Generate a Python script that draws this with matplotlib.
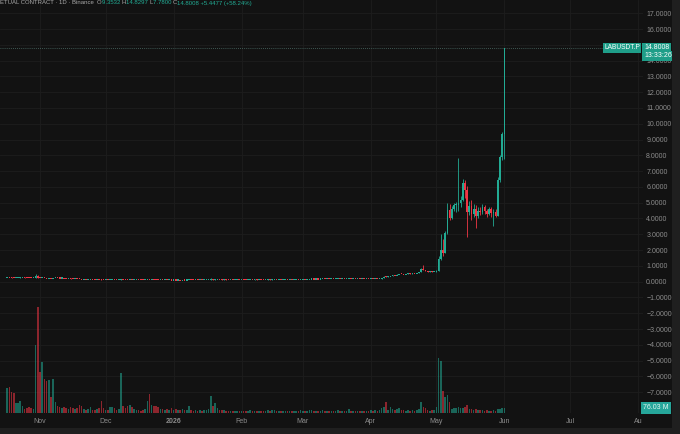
import numpy as np
import matplotlib.pyplot as plt
import matplotlib.dates as mdates
import matplotlib.transforms as mtransforms
from matplotlib.patches import Rectangle
from matplotlib.offsetbox import TextArea, HPacker, AnchoredOffsetbox

plt.rcParams['font.family'] = ['Liberation Sans', 'DejaVu Sans']

# daily candles, LABUSDT.P perpetual, 2025-10-17 .. 2026-06-01
start_day = np.datetime64('2025-10-17')
first_open = 0.270

closes = [
    0.285, 0.270, 0.258, 0.245, 0.252, 0.258, 0.266, 0.270, 0.262, 0.255,
    0.246, 0.238, 0.242, 0.350, 0.262, 0.228, 0.255, 0.236, 0.214, 0.228,
    0.215, 0.232, 0.236, 0.226, 0.218, 0.221, 0.212, 0.204, 0.207, 0.198,
    0.188, 0.191, 0.180, 0.165, 0.152, 0.156, 0.150, 0.153, 0.158, 0.151,
    0.144, 0.147, 0.138, 0.118, 0.108, 0.111, 0.106, 0.112, 0.117, 0.110,
    0.104, 0.107, 0.131, 0.122, 0.116, 0.108, 0.116, 0.110, 0.113, 0.115,
    0.111, 0.108, 0.105, 0.108, 0.121, 0.104, 0.110, 0.104, 0.099, 0.094,
    0.097, 0.094, 0.096, 0.093, 0.096, 0.092, 0.095, 0.092, 0.094, 0.091,
    0.094, 0.092, 0.094, 0.104, 0.100, 0.097, 0.099, 0.096, 0.098, 0.096,
    0.098, 0.101, 0.106, 0.150, 0.128, 0.142, 0.146, 0.140, 0.136, 0.138,
    0.135, 0.132, 0.134, 0.131, 0.133, 0.136, 0.133, 0.135, 0.132, 0.130,
    0.133, 0.136, 0.134, 0.137, 0.134, 0.136, 0.133, 0.131, 0.134, 0.138,
    0.135, 0.139, 0.142, 0.139, 0.141, 0.138, 0.140, 0.143, 0.140, 0.142,
    0.139, 0.142, 0.145, 0.142, 0.146, 0.150, 0.147, 0.151, 0.155, 0.160,
    0.156, 0.159, 0.156, 0.160, 0.163, 0.160, 0.163, 0.160, 0.164, 0.161,
    0.165, 0.168, 0.165, 0.168, 0.165, 0.168, 0.174, 0.170, 0.173, 0.170,
    0.173, 0.170, 0.174, 0.171, 0.174, 0.172, 0.176, 0.173, 0.178, 0.175,
    0.185, 0.225, 0.345, 0.318, 0.335, 0.380, 0.420, 0.405, 0.455, 0.500,
    0.480, 0.465, 0.490, 0.520, 0.505, 0.540, 0.525, 0.560, 0.640, 0.820,
    0.760, 0.680, 0.640, 0.660, 0.620, 0.640, 0.700, 1.480, 2.000, 1.850,
    3.100, 4.550, 4.050, 4.650, 4.850, 4.900, 5.000, 5.200, 6.300, 5.800,
    4.400, 4.800, 4.300, 4.600, 4.200, 4.500, 4.400, 4.750, 4.500, 4.300,
    4.600, 4.350, 4.450, 4.200, 6.450, 7.900, 9.3531, 14.8008,
]

# visible wicks (day index -> value); other days have no visible wick
highs = {13: 0.49, 14: 0.42, 52: 0.16, 93: 0.21, 172: 0.38, 189: 0.88,
         190: 1.05, 196: 0.74, 197: 1.60, 198: 3.00, 199: 2.70, 200: 3.20,
         201: 5.00, 202: 4.90, 203: 4.80, 204: 5.00, 205: 5.05, 206: 7.85,
         207: 5.40, 208: 6.50, 209: 6.45, 210: 6.05, 211: 5.10, 212: 5.20,
         213: 4.90, 214: 4.85, 215: 4.70, 216: 4.75, 217: 4.90, 218: 4.85,
         219: 4.60, 220: 4.70, 221: 4.70, 222: 4.60, 223: 4.60, 224: 6.60,
         225: 8.00, 226: 9.50, 227: 14.8297}
lows = {13: 0.22, 14: 0.23, 190: 0.74, 196: 0.60, 197: 0.68, 198: 1.40,
        199: 1.60, 200: 1.80, 201: 3.00, 202: 3.90, 203: 3.95, 204: 4.50,
        205: 4.40, 206: 4.50, 207: 4.70, 208: 5.10, 209: 5.30, 210: 2.85,
        211: 4.20, 212: 3.90, 213: 4.10, 214: 3.40, 215: 4.00, 216: 4.20,
        217: 4.30, 218: 4.30, 219: 4.10, 220: 4.20, 221: 4.10, 222: 3.50,
        223: 4.10, 224: 4.15, 225: 6.30, 226: 7.70, 227: 7.78}

# volume in millions
volumes = [
    375, 390, 315, 300, 150, 150, 180, 105, 60, 75,
    90, 75, 60, 1020, 1590, 615, 765, 510, 480, 495,
    240, 510, 165, 105, 90, 75, 90, 75, 60, 90,
    75, 60, 75, 120, 105, 60, 45, 60, 90, 45,
    45, 60, 75, 180, 75, 45, 45, 90, 90, 75,
    45, 60, 600, 105, 75, 105, 120, 90, 60, 45,
    45, 30, 45, 60, 180, 285, 120, 105, 105, 90,
    60, 60, 45, 60, 45, 75, 45, 60, 45, 45,
    60, 45, 45, 105, 45, 30, 45, 30, 45, 30,
    45, 45, 60, 255, 105, 150, 75, 45, 45, 40,
    30, 35, 25, 30, 25, 35, 30, 25, 30, 35,
    25, 40, 30, 25, 30, 25, 30, 25, 30, 45,
    30, 40, 45, 30, 25, 30, 25, 35, 30, 25,
    30, 25, 35, 30, 40, 35, 30, 35, 40, 50,
    30, 35, 30, 35, 40, 30, 35, 30, 35, 30,
    35, 40, 30, 35, 30, 35, 55, 35, 30, 30,
    35, 30, 35, 30, 35, 30, 40, 35, 40, 35,
    45, 75, 90, 165, 50, 90, 60, 45, 60, 75,
    45, 45, 35, 45, 35, 45, 35, 45, 60, 165,
    90, 75, 45, 35, 45, 45, 90, 825, 780, 330,
    240, 270, 165, 60, 75, 75, 90, 75, 75, 90,
    120, 60, 60, 45, 60, 45, 40, 45, 35, 40,
    35, 30, 45, 35, 60, 65, 70, 76.03,
]

month_ticks = ['2025-11-01', '2025-12-01', '2026-01-01', '2026-02-01', '2026-03-01',
               '2026-04-01', '2026-05-01', '2026-06-01', '2026-07-01', '2026-08-01']
month_labels = ['Nov', 'Dec', '2026', 'Feb', 'Mar', 'Apr', 'May', 'Jun', 'Jul', 'Au']
price_ticks = list(range(-7, 18))
hidden_ticks = [15]   # covered by the last-price tag

header = [('ETUAL CONTRACT · 1D · Binance  ', '#a9a9a9'), ('O', '#a9a9a9'), ('9.3532 ', None),
          ('H', '#a9a9a9'), ('14.8297 ', None), ('L', '#a9a9a9'), ('7.7800 ', None),
          ('C', '#a9a9a9'), ('14.8008 +5.4477 (+58.24%)', None)]
last_close = closes[-1]
last_volume = '76.03 M'

BG = '#121212'
TEAL = '#22ab94'
RED = '#f23645'
GRID = '#1d1d1d'
TXT = '#8c8c8c'

closes = np.array(closes)
opens = np.r_[first_open, closes[:-1]]
dates = start_day + np.arange(len(closes))
x = mdates.date2num(dates)
up = closes >= opens
colors = np.where(up, TEAL, RED)
body_lo = np.minimum(opens, closes)
body_hi = np.maximum(opens, closes)
hi = np.array([highs.get(i, body_hi[i]) for i in range(len(closes))])
lo = np.array([lows.get(i, body_lo[i]) for i in range(len(closes))])

fig = plt.figure(figsize=(6.8, 4.34), dpi=100, facecolor=BG)
ax = fig.add_axes([0, 21 / 434, 643 / 680, 413 / 434], facecolor=BG)
ax2 = ax.twinx()

# candles
ax.vlines(x, lo, hi, colors=colors, linewidth=0.6, zorder=3)
ax.bar(x, np.maximum(body_hi - body_lo, 0.065), bottom=body_lo - 0.02, width=0.75,
       color=colors, linewidth=0, zorder=3)
ax.axhline(last_close, color='#4d6f69', linestyle=(0, (1, 1.5)), linewidth=0.6, zorder=2)

# volume
ax2.bar(x, volumes, width=0.72, color=colors, alpha=0.55, linewidth=0)

nov1 = mdates.date2num(np.datetime64('2025-11-01'))
ax.set_xlim(nov1 - 18.26, nov1 + 275.3)
ax.set_ylim(-8.32, 17.84)
ax2.set_ylim(0, 6195)
ax2.set_yticks([])

ax.set_xticks(mdates.date2num(np.array(month_ticks, dtype='datetime64[D]')))
xlabels = ax.set_xticklabels(month_labels)
for t in xlabels:
    if t.get_text() == '2026':
        t.set_fontweight('bold')
        t.set_color('#c8c8c8')
ax.set_yticks(price_ticks)
ax.set_yticklabels(['' if v in hidden_ticks else f'{v:.4f}'.replace('-', '\u2212')
                    for v in price_ticks])
ax.yaxis.tick_right()
ax.tick_params(axis='y', length=0, pad=2.3, labelsize=5, labelcolor=TXT,
               left=False, labelleft=False, right=False, labelright=True)
ax.tick_params(axis='x', length=0, pad=3.5, labelsize=5, labelcolor=TXT)
ax.grid(True, color=GRID, linewidth=0.6)
ax.set_axisbelow(True)
for a in (ax, ax2):
    for s in a.spines.values():
        s.set_visible(False)

# price / volume labels on the scale
tr_price = mtransforms.blended_transform_factory(fig.transFigure, ax.transData)
tr_vol = mtransforms.blended_transform_factory(fig.transFigure, ax2.transData)
box = dict(boxstyle='square,pad=0.22', facecolor='#1f9e89', edgecolor='none')
ax.text(644 / 680, last_close, f'{last_close:.4f}', transform=tr_price, fontsize=5,
        color='white', ha='left', va='center', bbox=box, zorder=10, clip_on=False)
ax.text(644 / 680, last_close - 0.50, '13:33:26', transform=tr_price, fontsize=5,
        color='white', ha='left', va='center', bbox=box, zorder=10, clip_on=False)
ax.text(640 / 680, last_close, 'LABUSDT.P', transform=tr_price, fontsize=4.8,
        color='white', ha='right', va='center', bbox=box, zorder=10, clip_on=False)
ax2.text(643 / 680, 76.03, last_volume, transform=tr_vol, fontsize=5, color='#dff5f0',
         ha='left', va='center', zorder=10, clip_on=False,
         bbox=dict(boxstyle='square,pad=0.3', facecolor='#26a69a', edgecolor='none'))

# header line: coloured pieces packed on one baseline
areas = [TextArea(s, textprops=dict(color=c or TEAL, fontsize=4.3)) for s, c in header]
pack = HPacker(children=areas, align='baseline', pad=0, sep=0)
fig.add_artist(AnchoredOffsetbox(loc='upper left', child=pack, pad=0, borderpad=0,
                                 frameon=False, bbox_to_anchor=(0, 1 - 0.5 / 434),
                                 bbox_transform=fig.transFigure))

# frame strips
fig.patches.append(Rectangle((0, 0), 1, 6 / 434, transform=fig.transFigure,
                             facecolor='#1f1f1f', edgecolor='none'))
fig.patches.append(Rectangle((672 / 680, 0), 8 / 680, 1, transform=fig.transFigure,
                             facecolor='#1f1f1f', edgecolor='none'))

fig.savefig('out.png', dpi=100, facecolor=BG)
